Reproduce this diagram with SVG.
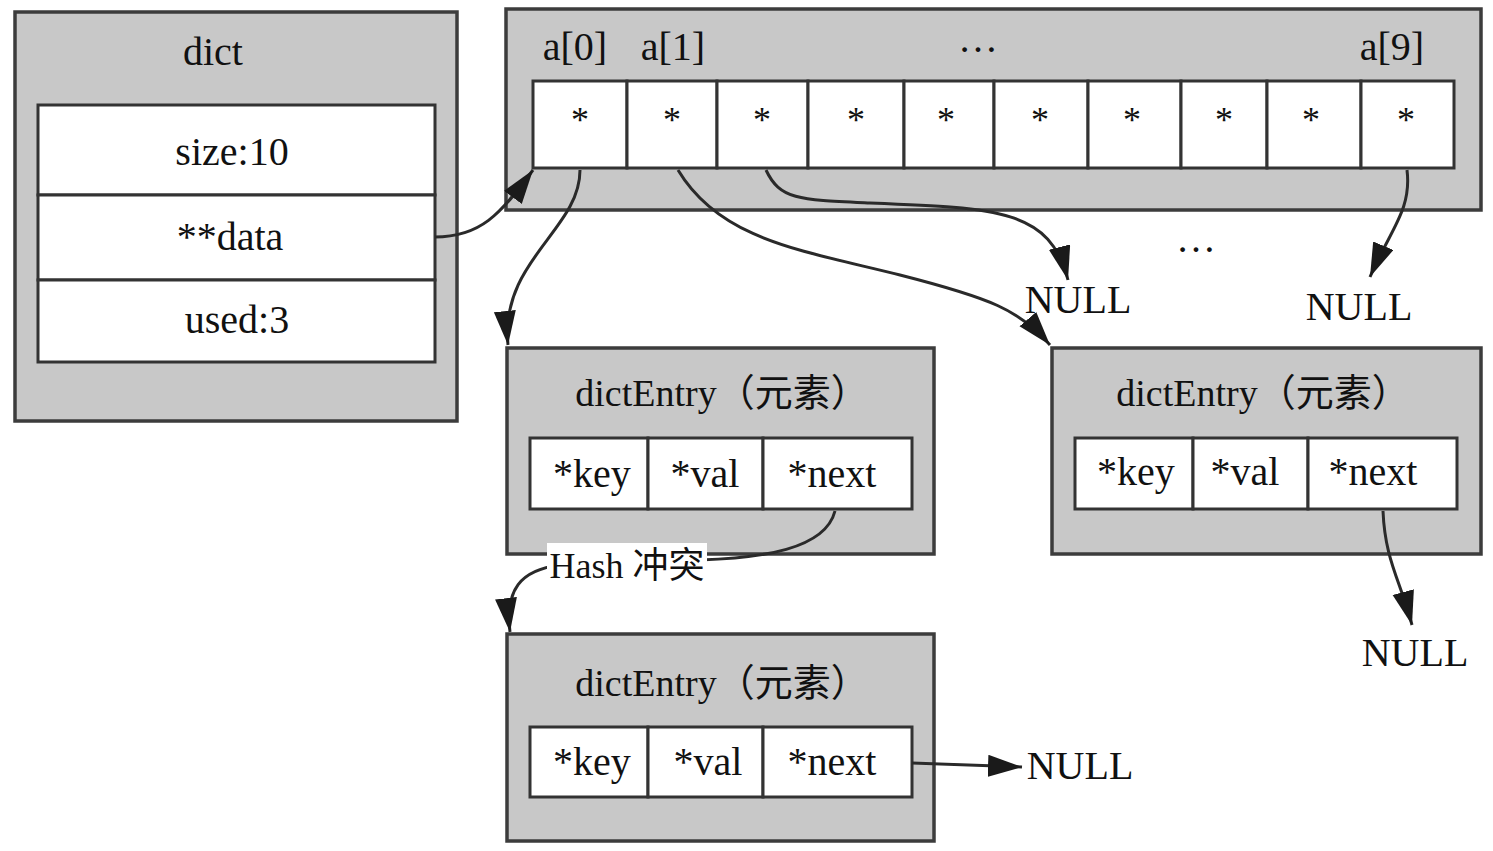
<svg xmlns="http://www.w3.org/2000/svg" width="1493" height="851" viewBox="0 0 1493 851">
<style>
.outer{fill:#c8c8c8;stroke:#3c3c3c;stroke-width:3.5}
.cell{fill:#ffffff;stroke:#333333;stroke-width:3}
.t{font-family:"Liberation Serif","Noto Sans CJK SC",serif;font-size:40px;fill:#111;text-anchor:middle}
.ts{font-family:"Liberation Serif","Noto Sans CJK SC",serif;font-size:36px;fill:#111;text-anchor:middle}
.tt{font-family:"Liberation Serif","Noto Sans CJK SC",serif;font-size:38px;fill:#111;text-anchor:middle}
.e{fill:none;stroke:#2a2a2a;stroke-width:3}
</style>
<defs>
<marker id="ah" markerUnits="userSpaceOnUse" markerWidth="36" markerHeight="24" refX="34" refY="11" orient="auto">
<path d="M0,0 L34,11 L0,22 z" fill="#1a1a1a"/>
</marker>
</defs>
<rect width="1493" height="851" fill="#ffffff"/>

<g id="dict">
<rect class="outer" x="15" y="12" width="442" height="409"/>
<text class="t" x="213" y="65">dict</text>
<rect class="cell" x="38" y="105" width="397" height="90"/>
<rect class="cell" x="38" y="195" width="397" height="85"/>
<rect class="cell" x="38" y="280" width="397" height="82"/>
<text class="t" x="232" y="165">size:10</text>
<text class="t" x="230" y="250">**data</text>
<text class="t" x="237" y="333">used:3</text>
</g>

<g id="array">
<rect class="outer" x="506" y="9" width="975" height="201"/>
<text class="t" x="575" y="60">a[0]</text>
<text class="t" x="673" y="60">a[1]</text>
<text class="t" x="978" y="52">…</text>
<text class="t" x="1392" y="60">a[9]</text>
<rect class="cell" x="533" y="81" width="94" height="87"/>
<rect class="cell" x="627" y="81" width="90" height="87"/>
<rect class="cell" x="717" y="81" width="91" height="87"/>
<rect class="cell" x="808" y="81" width="96" height="87"/>
<rect class="cell" x="904" y="81" width="90" height="87"/>
<rect class="cell" x="994" y="81" width="94" height="87"/>
<rect class="cell" x="1088" y="81" width="93" height="87"/>
<rect class="cell" x="1181" y="81" width="86" height="87"/>
<rect class="cell" x="1267" y="81" width="94" height="87"/>
<rect class="cell" x="1361" y="81" width="93" height="87"/>
<text class="ts" x="580" y="132">*</text>
<text class="ts" x="672" y="132">*</text>
<text class="ts" x="762" y="132">*</text>
<text class="ts" x="856" y="132">*</text>
<text class="ts" x="946" y="132">*</text>
<text class="ts" x="1040" y="132">*</text>
<text class="ts" x="1132" y="132">*</text>
<text class="ts" x="1224" y="132">*</text>
<text class="ts" x="1311" y="132">*</text>
<text class="ts" x="1406" y="132">*</text>
</g>

<g id="entry1">
<rect class="outer" x="507" y="348" width="427" height="206"/>
<text class="tt" x="722" y="406">dictEntry（元素）</text>
<rect class="cell" x="530" y="438" width="118" height="71"/>
<rect class="cell" x="648" y="438" width="115" height="71"/>
<rect class="cell" x="763" y="438" width="149" height="71"/>
<text class="t" x="592" y="487">*key</text>
<text class="t" x="705" y="487">*val</text>
<text class="t" x="832" y="487">*next</text>
</g>

<g id="entry2">
<rect class="outer" x="1052" y="348" width="429" height="206"/>
<text class="tt" x="1263" y="406">dictEntry（元素）</text>
<rect class="cell" x="1075" y="438" width="118" height="71"/>
<rect class="cell" x="1193" y="438" width="115" height="71"/>
<rect class="cell" x="1308" y="438" width="149" height="71"/>
<text class="t" x="1136" y="485">*key</text>
<text class="t" x="1245" y="485">*val</text>
<text class="t" x="1373" y="485">*next</text>
</g>

<g id="entry3">
<rect class="outer" x="507" y="634" width="427" height="207"/>
<text class="tt" x="722" y="696">dictEntry（元素）</text>
<rect class="cell" x="530" y="727" width="118" height="70"/>
<rect class="cell" x="648" y="727" width="115" height="70"/>
<rect class="cell" x="763" y="727" width="149" height="70"/>
<text class="t" x="592" y="775">*key</text>
<text class="t" x="708" y="775">*val</text>
<text class="t" x="832" y="775">*next</text>
</g>

<g id="connectors">
<path class="e" d="M435,237 C480,237 500,215 533,170" marker-end="url(#ah)"/>
<path class="e" d="M580,170 C580,230 500,260 508,345" marker-end="url(#ah)"/>
<path class="e" d="M678,170 C720,240 800,250 900,275 C990,298 1020,310 1050,345" marker-end="url(#ah)"/>
<path class="e" d="M766,170 C780,200 800,200 870,203 C1000,208 1050,210 1068,280" marker-end="url(#ah)"/>
<path class="e" d="M1407,170 C1412,210 1390,230 1370,277" marker-end="url(#ah)"/>
<path class="e" d="M835,511 C825,550 760,558 700,560 L560,565 C520,570 505,590 510,632" marker-end="url(#ah)"/>
<path class="e" d="M1383,511 C1385,560 1400,580 1412,625" marker-end="url(#ah)"/>
<path class="e" d="M912,763 L1022,767" marker-end="url(#ah)"/>
<rect x="547" y="543" width="160" height="40" fill="#ffffff"/>
<text class="ts" x="627" y="578">Hash 冲突</text>
</g>

<g id="nulls">
<text class="t" x="1078" y="313">NULL</text>
<text class="t" x="1196" y="252">…</text>
<text class="t" x="1359" y="320">NULL</text>
<text class="t" x="1415" y="666">NULL</text>
<text class="t" x="1080" y="779">NULL</text>
</g>
</svg>
